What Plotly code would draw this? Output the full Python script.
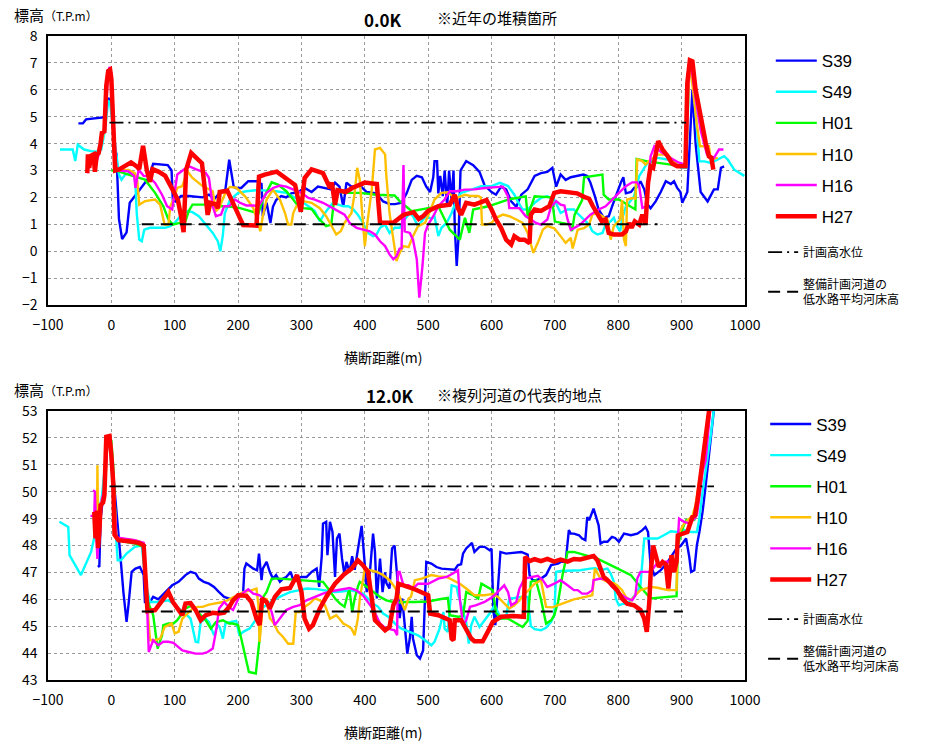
import plotly.graph_objects as go

# ---------------- data: 0.0K cross-section (x: 横断距離 m, y: 標高 T.P.m) ----------------
top_S39 = [(-52,4.75),(-45,4.75),(-40,4.9),(-25,4.95),(-10,4.98),(-5,5.7),(0,5.5),(5,3.6),(8,3.65),(12,1.2),(17,0.45),(24,0.7),(29,1.8),(42,2.2),(58,2.7),(66,3.25),(82,3.2),(89,3.2),(95,3.0),(97,1.9),(101,1.85),(110,2.05),(122,2.05),(144,2.0),(154,2.1),(163,1.95),(172,2.2),(180,2.3),(186,3.4),(190,2.8),(193,2.4),(196,2.35),(205,2.35),(216,2.6),(229,2.6),(237,2.5),(239,1.3),(245,1.8),(251,1.05),(255,1.65),(260,1.9),(268,2.05),(276,2.0),(284,2.15),(295,2.2),(305,2.35),(316,2.2),(326,2.4),(339,2.35),(347,2.3),(353,2.55),(360,2.4),(366,1.65),(371,2.55),(379,2.4),(392,2.45),(403,2.2),(418,2.15),(429,1.85),(439,1.75),(448,1.75),(458,1.8),(466,2.15),(474,2.65),(482,2.8),(490,2.75),(497,2.4),(503,2.2),(508,2.75),(510,3.35),(514,3.35),(516,2.15),(519,2.8),(523,2.05),(526,3.0),(530,1.65),(533,3.0),(537,1.9),(540,3.0),(542,0.9),(545,-0.55),(548,0.55),(551,3.0),(560,3.35),(571,3.2),(581,2.95),(589,2.45),(600,2.2),(607,2.1),(615,2.4),(623,2.3),(631,1.85),(639,1.65),(647,2.1),(657,2.3),(668,2.8),(678,2.9),(688,2.95),(696,3.1),(702,2.4),(709,2.85),(717,2.65),(725,2.75),(735,2.8),(745,2.85),(751,2.8),(756,2.55),(763,2.05),(769,1.55),(777,1.25),(785,1.3),(790,1.65),(796,2.05),(804,2.55),(808,2.75),(812,2.15),(820,2.2),(825,2.35),(830,2.4),(835,2.6),(841,2.3),(846,1.75),(851,1.6),(859,1.85),(867,2.2),(875,2.6),(883,2.5),(888,2.6),(893,2.35),(898,2.2),(901,1.8),(909,2.2),(917,6.0),(922,4.0),(930,2.2),(941,1.85),(951,2.3),(957,2.3),(962,3.1),(967,3.15)]
top_S49 = [(-81,3.78),(-61,3.78),(-57,3.35),(-53,3.96),(-43,3.78),(-32,3.72),(-21,3.7),(-16,3.78),(-12,4.27),(-10,4.5),(-5,5.6),(-2,5.5),(3,4.5),(8,3.53),(12,2.85),(16,2.66),(22,2.85),(29,2.9),(36,2.9),(38,2.48),(40,1.42),(44,0.43),(48,0.37),(52,0.8),(61,0.87),(74,0.87),(85,0.87),(93,0.93),(101,1.08),(109,1.3),(120,1.49),(128,1.45),(138,1.3),(149,0.99),(160,0.68),(168,0.37),(172,0.0),(176,0.6),(179,1.4),(187,1.9),(200,2.17),(213,2.23),(229,2.27),(245,2.25),(260,2.23),(276,2.17),(292,1.98),(300,1.86),(311,1.67),(321,1.49),(329,1.11),(337,1.42),(345,1.67),(350,1.8),(358,1.73),(366,1.67),(374,1.67),(382,1.55),(389,1.36),(397,1.05),(405,0.68),(413,0.56),(418,0.6),(424,0.87),(432,0.99),(439,0.68),(447,0.87),(455,0.87),(463,1.18),(471,1.42),(476,1.3),(484,0.93),(492,1.18),(497,1.3),(505,1.2),(510,1.3),(516,0.56),(521,0.87),(529,1.05),(537,1.42),(545,1.92),(552,2.17),(568,2.29),(584,2.42),(600,2.42),(613,2.54),(626,2.42),(636,2.1),(641,1.86),(649,1.55),(657,1.55),(668,1.8),(678,1.98),(688,2.04),(699,1.92),(709,1.42),(720,1.55),(730,1.55),(735,1.42),(746,1.18),(754,0.99),(759,0.74),(767,0.62),(775,0.68),(780,0.99),(788,1.11),(793,1.24),(798,0.93),(803,0.74),(806,1.18),(812,1.67),(817,1.8),(825,2.04),(833,2.79),(838,2.97),(846,3.28),(854,3.41),(862,3.47),(878,3.41),(888,3.35),(899,3.1),(907,3.1),(912,6.63),(916,6.75),(920,5.76),(924,4.65),(928,3.34),(936,3.34),(946,3.28),(957,3.41),(967,3.53),(973,3.4),(983,3.03),(999,2.8)]
top_H01 = [(0,3.0),(8,3.0),(27,2.85),(53,2.66),(69,2.17),(82,1.67),(90,1.18),(97,0.99),(117,1.11),(122,1.49),(128,1.73),(154,1.73),(165,1.67),(183,1.67),(203,1.6),(232,1.4),(239,1.92),(253,2.56),(263,2.48),(276,2.23),(287,1.92),(295,1.67),(303,1.6),(316,1.57),(326,1.24),(339,0.93),(347,0.99),(353,2.23),(371,2.17),(392,2.17),(418,2.1),(447,2.07),(455,1.86),(474,1.49),(500,1.6),(516,1.67),(534,0.8),(550,0.43),(558,1.24),(565,0.68),(571,1.55),(595,1.67),(626,1.92),(654,2.04),(657,1.3),(668,2.04),(695,2.0),(700,1.1),(722,1.0),(727,0.75),(731,1.35),(743,1.9),(746,2.75),(775,2.85),(777,2.1),(785,1.92),(801,1.92),(827,1.55),(829,3.43),(846,3.34),(883,3.22),(895,3.16)]
top_H10 = [(-40,3.3),(-30,3.4),(-20,3.6),(-12,4.4),(-5,6.6),(-1,6.7),(3,4.6),(8,3.0),(27,3.02),(37,2.9),(41,2.6),(44,1.73),(53,1.86),(69,1.92),(77,1.73),(84,0.99),(90,0.99),(93,1.67),(98,1.92),(104,2.35),(112,2.42),(120,2.97),(128,2.72),(144,2.42),(160,2.23),(165,1.49),(170,1.6),(181,2.23),(187,2.39),(197,2.36),(211,2.04),(224,1.6),(232,1.05),(235,0.74),(239,1.3),(245,1.92),(255,2.29),(266,1.92),(274,1.42),(279,0.99),(284,0.99),(287,1.42),(292,1.67),(303,1.86),(316,1.8),(329,1.6),(339,1.3),(347,0.93),(355,0.62),(362,0.74),(368,1.05),(379,1.42),(384,2.17),(388,3.1),(392,2.66),(395,1.67),(400,0.19),(404,1.05),(411,2.29),(416,3.78),(424,3.84),(432,3.6),(434,2.78),(439,1.42),(445,0.37),(450,-0.37),(455,-0.06),(461,0.19),(469,0.15),(476,0.56),(484,0.93),(495,1.05),(503,1.49),(510,1.92),(521,2.17),(531,2.19),(539,2.04),(547,2.0),(558,2.1),(568,2.05),(579,2.05),(583,2.0),(585,0.99),(592,0.99),(600,1.05),(607,1.24),(618,1.36),(628,1.3),(639,1.18),(649,1.05),(657,0.68),(666,-0.06),(673,0.31),(681,0.8),(688,0.93),(699,0.85),(709,0.56),(717,0.31),(725,0.5),(728,0.1),(736,0.8),(746,0.86),(754,0.99),(759,1.36),(767,1.42),(775,1.3),(783,1.18),(788,0.43),(793,0.93),(803,1.18),(806,1.9),(809,0.43),(812,0.19),(814,1.92),(825,1.98),(827,1.92),(830,3.41),(838,3.35),(843,3.22),(851,3.41),(862,3.59),(878,3.59),(885,3.41),(893,3.22),(907,3.16),(912,6.94),(917,6.2),(924,4.71),(929,3.9),(943,3.9),(946,3.41),(957,3.47)]
top_H16 = [(-38,2.9),(-36,3.1),(-33,3.5),(-28,3.3),(-25,3.2),(-20,3.6),(-15,4.3),(-10,4.5),(-6,6.3),(-3,6.85),(0,6.6),(4,4.6),(8,3.05),(11,3.0),(27,2.97),(36,2.79),(38,2.35),(43,3.03),(51,2.8),(59,2.78),(69,2.54),(80,2.1),(88,1.67),(96,1.55),(104,2.85),(114,3.03),(122,3.16),(133,3.05),(149,2.91),(154,2.72),(160,1.67),(165,1.3),(173,1.36),(178,1.67),(186,1.67),(195,1.92),(203,1.8),(213,1.7),(224,1.7),(232,1.67),(245,2.17),(255,2.35),(266,2.44),(276,2.4),(287,2.29),(300,2.17),(311,1.98),(321,1.92),(334,1.8),(345,1.67),(358,1.49),(368,1.36),(376,1.05),(387,0.87),(397,0.8),(408,0.74),(416,0.62),(424,0.37),(432,0.19),(439,-0.12),(445,-0.3),(450,-0.19),(455,0.1),(458,0.12),(461,3.2),(463,0.74),(471,0.68),(476,0.43),(482,-0.3),(486,-1.73),(491,-0.55),(495,0.68),(500,0.99),(508,1.3),(516,1.67),(526,1.92),(534,2.23),(545,2.23),(558,2.29),(573,2.3),(589,2.35),(605,2.38),(618,2.4),(626,2.04),(628,1.6),(644,1.6),(654,1.3),(662,1.18),(670,1.05),(678,0.99),(688,1.18),(694,1.67),(702,1.86),(709,1.73),(715,1.7),(720,1.18),(725,0.8),(730,0.86),(740,0.99),(756,1.36),(769,1.55),(780,1.67),(790,1.92),(801,2.17),(812,2.42),(822,2.56),(830,2.56),(833,2.42),(838,1.61),(843,1.65),(849,2.91),(851,3.53),(857,3.9),(867,3.7),(880,3.5),(895,3.3),(907,3.2),(911,6.9),(914,7.1),(920,6.0),(930,4.5),(940,3.6),(951,3.47),(959,3.78),(966,3.78)]
top_H27 = [(-38,2.9),(-37,3.6),(-35,3.1),(-32,3.55),(-28,3.6),(-26,2.95),(-23,3.6),(-20,3.65),(-17,4.0),(-15,4.4),(-11,4.45),(-8,6.15),(-5,6.7),(-2,6.75),(0,6.4),(3,4.65),(6,3.0),(13,3.05),(21,3.15),(31,3.3),(40,3.15),(44,3.05),(50,3.92),(56,3.0),(61,2.58),(65,3.05),(75,2.95),(85,2.8),(97,2.27),(105,1.9),(110,1.3),(114,0.71),(118,3.02),(126,3.65),(143,3.27),(152,1.35),(156,1.8),(164,1.75),(168,1.6),(171,2.2),(183,2.25),(195,1.6),(208,0.97),(229,0.95),(233,2.77),(242,2.85),(261,2.96),(290,2.46),(299,1.47),(305,2.72),(316,3.04),(334,2.9),(340,2.6),(345,2.35),(348,2.55),(353,1.72),(357,2.27),(370,2.2),(380,2.35),(390,2.45),(400,2.55),(419,2.5),(424,1.06),(445,1.06),(461,1.35),(477,1.45),(485,1.2),(492,1.3),(500,1.5),(516,1.67),(534,1.73),(542,2.1),(547,1.6),(552,1.35),(560,1.8),(573,1.73),(584,1.85),(592,1.9),(600,1.55),(607,1.18),(615,0.87),(623,0.43),(631,0.25),(636,0.56),(644,0.43),(652,0.43),(660,0.3),(662,1.36),(668,1.55),(678,1.5),(691,1.67),(699,2.17),(709,2.23),(725,2.2),(735,2.15),(746,2.02),(754,1.95),(760,1.67),(767,1.36),(774,1.11),(780,1.18),(785,0.68),(793,0.62),(806,0.62),(812,0.74),(817,1.05),(821,0.87),(826,1.11),(833,0.99),(838,1.36),(843,0.99),(847,2.54),(851,3.16),(855,3.1),(863,4.09),(870,3.78),(878,3.53),(885,3.26),(893,3.16),(906,3.16),(909,6.26),(913,7.1),(917,7.06),(922,6.0),(928,5.27),(933,4.52),(938,4.03),(943,3.53),(947,3.47),(950,3.03)]
top_hwl_x = [-3, 907]          # 計画高水位
top_hwl_y = [4.78, 4.78]
top_bed_x = [48, 862]          # 整備計画河道の低水路平均河床高
top_bed_y = [1.0, 1.0]

# ---------------- data: 12.0K cross-section ----------------
bot_S39 = [(-21,47.27),(-19,47.2),(-17,49.0),(-12,50.0),(-8,51.5),(-5,52.0),(-1,51.7),(3,50.7),(5,50.0),(11,48.5),(15,47.4),(19,46.27),(21,45.78),(24,45.16),(27,45.78),(32,47.02),(38,47.14),(45,47.2),(51,46.9),(53,45.9),(61,45.9),(66,46.09),(74,46.0),(85,46.27),(96,46.52),(106,46.65),(117,46.9),(125,47.02),(133,46.96),(138,46.77),(146,46.65),(154,46.58),(162,46.46),(170,46.27),(178,46.09),(186,46.03),(192,45.96),(197,46.09),(203,46.15),(208,46.27),(210,47.14),(213,47.33),(224,47.14),(230,47.08),(233,47.7),(237,46.71),(239,47.14),(245,47.39),(250,47.02),(255,46.77),(260,46.9),(266,46.65),(271,46.77),(276,46.83),(283,47.02),(287,46.71),(295,46.77),(300,46.83),(308,46.83),(316,47.02),(324,47.14),(328,46.46),(332,47.6),(334,48.81),(339,48.88),(341,47.64),(345,48.88),(349,48.5),(353,46.83),(356,48.26),(360,48.44),(364,47.52),(368,46.9),(371,47.39),(376,47.02),(380,47.6),(384,47.1),(392,48.2),(395,48.73),(400,47.27),(403,46.27),(408,47.0),(413,48.44),(416,47.76),(419,46.03),(424,47.51),(428,46.27),(432,47.0),(434,46.6),(439,46.4),(443,47.89),(447,48.0),(450,47.14),(453,46.3),(455,45.3),(459,46.03),(463,45.04),(467,43.98),(471,44.54),(474,45.35),(476,44.54),(482,43.92),(487,43.8),(492,44.1),(497,47.39),(505,47.33),(513,47.2),(521,47.14),(531,47.12),(542,47.1),(547,47.27),(552,47.3),(555,47.7),(560,47.89),(565,48.0),(569,48.1),(573,47.76),(581,47.95),(589,47.95),(597,47.82),(600,47.88),(603,45.53),(606,45.04),(610,46.27),(614,47.76),(623,47.7),(634,47.73),(647,47.76),(657,47.66),(660,46.9),(665,46.71),(670,46.71),(678,46.77),(686,46.9),(694,47.27),(705,47.33),(709,47.39),(717,47.39),(722,48.57),(725,48.44),(730,48.44),(738,48.38),(743,48.26),(748,48.2),(751,49.06),(754,48.94),(761,49.37),(764,49.12),(769,48.75),(772,48.07),(777,48.14),(783,48.14),(790,48.32),(795,48.28),(801,48.14),(809,48.44),(820,48.38),(830,48.44),(838,48.57),(843,48.69),(847,48.5),(851,47.27),(857,46.9),(867,47.08),(878,47.39),(885,47.64),(892,47.89),(899,48.0),(907,48.26),(912,47.58),(915,47.02),(920,47.08),(924,48.0),(928,48.5),(933,49.25),(938,50.24),(943,51.23),(949,52.6),(953,53.5)]
bot_S49 = [(-82,48.88),(-68,48.69),(-66,47.64),(-48,46.9),(-32,47.76),(-27,48.3),(-22,49.0),(-15,49.8),(-10,51.0),(-5,51.9),(-2,51.6),(3,50.0),(8,48.13),(10,47.45),(15,47.45),(24,47.7),(37,47.95),(48,48.0),(54,46.6),(61,45.9),(74,45.9),(90,45.96),(98,45.84),(106,45.66),(117,45.47),(125,45.28),(133,44.42),(137,44.4),(141,45.16),(149,45.28),(154,45.16),(162,44.66),(168,45.04),(171,44.97),(176,44.54),(180,45.1),(189,45.16),(197,45.2),(202,44.66),(208,44.79),(218,44.91),(229,45.28),(237,45.66),(245,45.78),(255,45.96),(268,46.12),(282,46.27),(295,46.33),(308,46.4),(324,46.38),(339,46.33),(353,46.27),(366,46.3),(379,46.33),(389,46.27),(397,46.21),(405,46.03),(413,45.84),(421,45.72),(429,45.47),(437,45.35),(445,45.16),(450,45.04),(458,44.91),(471,44.79),(484,44.66),(495,44.48),(505,44.29),(510,44.42),(518,44.91),(524,45.53),(526,44.91),(531,44.79),(537,46.52),(545,46.46),(547,46.21),(555,45.53),(560,45.16),(564,44.35),(568,45.04),(573,45.35),(581,44.97),(589,45.22),(597,45.47),(605,45.78),(610,45.53),(615,45.28),(623,45.35),(628,46.03),(636,46.05),(647,46.09),(657,46.09),(662,45.0),(668,44.89),(678,44.85),(686,44.94),(694,45.16),(699,45.41),(702,47.02),(709,47.05),(720,47.06),(730,47.08),(740,47.08),(756,47.14),(764,47.16),(772,47.08),(783,47.14),(788,46.96),(793,46.65),(796,46.03),(801,45.78),(806,45.82),(814,45.84),(822,46.03),(830,46.27),(835,46.52),(841,48.26),(851,48.26),(862,48.26),(872,48.38),(883,48.53),(893,48.5),(899,48.6),(907,48.56),(915,48.5),(924,48.5),(928,49.0),(933,49.99),(941,51.23),(946,52.1),(951,53.09),(954,53.5)]
bot_H01 = [(-10,50.5),(-6,52.0),(0,51.9),(3,50.92),(8,48.26),(16,48.16),(37,48.07),(51,47.95),(56,46.0),(66,45.41),(73,44.17),(80,44.66),(82,45.04),(90,45.1),(98,45.1),(104,45.22),(117,45.66),(128,45.78),(136,45.53),(149,45.22),(157,44.91),(165,45.15),(176,45.22),(186,45.1),(192,45.1),(200,45.04),(205,44.54),(212,43.8),(217,43.3),(228,43.24),(234,44.54),(238,46.03),(245,46.27),(253,46.77),(266,46.77),(282,46.74),(300,46.71),(318,46.68),(334,46.65),(342,46.4),(353,46.03),(361,45.84),(368,45.72),(374,46.27),(376,46.33),(380,45.53),(384,46.03),(389,46.46),(392,46.65),(400,46.52),(413,46.27),(424,46.09),(434,45.96),(445,45.9),(455,45.88),(463,45.9),(479,45.9),(500,45.92),(518,46.0),(531,46.05),(534,45.41),(547,45.35),(555,45.37),(560,46.27),(571,46.15),(579,46.03),(584,46.58),(594,46.46),(602,46.34),(607,45.5),(615,45.28),(626,45.28),(639,45.1),(649,44.97),(657,45.2),(662,46.65),(670,46.71),(678,46.0),(686,45.1),(694,45.22),(699,45.41),(705,45.9),(712,46.9),(720,47.76),(730,47.76),(746,47.64),(767,47.51),(788,47.27),(820,46.9),(835,46.46),(851,46.03),(878,46.09),(892,46.12),(894,48.0),(901,48.6),(907,48.94),(917,49.0),(920,48.94),(925,49.6),(930,50.4),(935,51.2),(941,52.3),(946,53.3)]
bot_H10 = [(-23,48.13),(-22,50.98),(-21,48.88),(-15,49.7),(-10,50.0),(-6,52.0),(-1,51.9),(3,50.5),(8,48.26),(37,48.2),(51,48.1),(56,46.0),(61,44.48),(69,44.48),(77,44.54),(84,44.97),(90,45.04),(95,45.1),(100,44.73),(106,44.79),(112,45.28),(120,45.47),(128,45.65),(136,45.72),(144,45.72),(154,45.8),(165,45.84),(176,45.9),(183,45.96),(186,46.0),(197,46.15),(208,46.27),(221,46.33),(229,46.4),(232,45.8),(234,44.42),(237,45.28),(239,45.9),(245,46.03),(250,45.3),(255,45.16),(263,44.79),(271,44.6),(279,44.35),(287,44.35),(291,45.53),(297,45.53),(305,45.72),(313,45.84),(321,46.03),(329,45.96),(337,45.78),(345,45.28),(355,45.41),(360,45.28),(366,45.1),(374,45.0),(379,44.91),(384,44.66),(389,45.28),(392,46.0),(396,46.58),(400,47.14),(408,47.08),(419,47.02),(429,46.9),(439,46.71),(447,46.46),(455,46.1),(458,45.9),(463,45.6),(469,46.03),(473,46.1),(479,46.71),(490,46.77),(505,46.9),(516,46.85),(529,46.83),(539,46.71),(550,46.58),(560,46.4),(573,46.15),(589,46.15),(602,46.2),(610,46.09),(620,45.84),(628,45.66),(636,45.78),(644,45.96),(652,46.21),(657,46.3),(668,46.58),(678,46.71),(686,45.72),(696,45.7),(705,45.78),(712,45.84),(720,45.9),(730,46.0),(748,46.09),(759,46.15),(763,47.14),(767,46.96),(772,46.77),(783,46.65),(793,46.6),(798,46.52),(806,46.34),(812,46.09),(820,45.96),(827,46.15),(835,46.34),(843,46.4),(851,46.46),(862,46.43),(878,46.34),(892,46.34),(894,48.4),(904,48.82),(909,48.94),(917,49.1),(922,49.5),(928,50.4),(933,51.2),(938,52.0),(943,53.0),(946,53.5)]
bot_H16 = [(-33,49.1),(-27,49.1),(-26,50.0),(-29,50.05),(-26,50.0),(-24,48.5),(-22,47.5),(-20,48.5),(-15,49.7),(-10,50.2),(-6,52.0),(-1,51.9),(3,50.3),(8,48.3),(37,48.2),(51,48.1),(56,46.0),(59,44.04),(66,44.48),(74,44.29),(82,44.42),(90,44.42),(98,44.38),(106,44.2),(112,44.1),(122,44.04),(133,43.98),(144,43.98),(152,44.04),(160,44.17),(165,44.79),(170,45.66),(178,45.9),(186,45.7),(192,45.6),(203,46.15),(216,46.37),(224,46.21),(234,46.15),(245,45.9),(253,45.53),(258,45.04),(266,45.28),(276,45.6),(287,45.72),(297,45.78),(308,45.96),(321,46.09),(334,46.21),(347,46.3),(363,46.37),(376,46.42),(387,46.33),(397,46.15),(408,45.8),(416,45.5),(424,45.1),(432,44.94),(439,44.89),(447,44.85),(451,44.66),(452,47.02),(455,47.02),(461,46.52),(469,46.52),(476,46.4),(484,46.58),(500,46.58),(516,46.77),(529,46.83),(539,46.96),(547,47.08),(550,46.0),(555,45.04),(560,45.22),(566,45.72),(576,45.78),(589,45.9),(602,46.09),(613,46.34),(620,46.52),(626,46.27),(631,45.78),(639,45.9),(644,46.4),(652,46.77),(662,46.83),(673,46.87),(681,46.71),(688,46.46),(699,46.58),(709,46.71),(720,46.52),(730,46.34),(736,46.34),(743,46.21),(751,46.21),(759,46.34),(761,46.71),(772,46.77),(783,46.71),(790,46.46),(798,46.34),(806,46.15),(814,46.03),(822,45.96),(827,46.15),(830,46.77),(835,47.02),(851,47.02),(860,47.3),(875,47.4),(892,47.4),(896,49.0),(904,48.88),(912,48.82),(920,49.0),(924,49.12),(928,49.8),(933,50.74),(938,51.17),(943,52.47),(946,53.3)]
bot_H27 = [(-27,49.25),(-25,48.26),(-23,49.3),(-21,47.9),(-19,48.5),(-17,49.5),(-13,49.6),(-11,49.87),(-8,52.04),(-3,52.07),(0,51.36),(3,50.3),(5,48.4),(11,48.2),(27,48.16),(43,48.1),(51,48.0),(54,47.0),(57,45.56),(69,45.6),(77,45.84),(84,46.09),(90,46.27),(97,45.9),(104,45.66),(112,45.41),(117,45.84),(125,45.86),(133,45.6),(141,45.22),(149,45.41),(160,45.5),(170,45.47),(178,45.5),(186,45.72),(192,45.96),(200,46.15),(213,46.13),(221,45.9),(229,45.28),(234,45.04),(238,46.03),(245,45.9),(250,45.66),(258,46.09),(268,46.37),(282,46.42),(289,46.77),(293,46.9),(300,46.27),(305,45.28),(312,44.91),(318,45.04),(329,45.66),(339,46.09),(353,46.58),(366,46.9),(379,47.14),(389,47.45),(397,47.27),(405,47.02),(411,46.03),(416,45.22),(424,45.04),(432,44.85),(439,44.97),(445,45.78),(450,46.03),(453,46.58),(476,46.4),(500,46.15),(503,45.47),(516,45.41),(534,45.22),(537,44.54),(540,44.48),(542,45.22),(552,45.22),(560,44.91),(568,44.54),(573,44.44),(586,44.44),(594,44.79),(602,45.16),(615,45.35),(634,45.38),(651,45.35),(653,47.58),(660,47.42),(668,47.49),(678,47.42),(688,47.5),(699,47.4),(709,47.48),(720,47.4),(730,47.5),(740,47.48),(748,47.52),(756,47.57),(761,47.61),(767,47.45),(772,47.14),(777,46.83),(783,46.71),(790,46.52),(798,46.34),(806,46.03),(814,45.84),(825,45.78),(835,45.6),(841,45.28),(845,44.79),(849,45.9),(851,46.9),(855,48.0),(861,47.39),(864,47.2),(870,47.39),(875,47.3),(879,46.4),(882,47.0),(884,47.64),(888,47.02),(892,47.4),(894,48.38),(901,48.44),(909,48.5),(917,49.06),(921,49.12),(925,49.68),(929,50.36),(933,51.05),(938,52.04),(943,52.97),(946,53.5)]
bot_hwl_x = [-3, 951]
bot_hwl_y = [50.2, 50.2]
bot_bed_x = [48, 902]
bot_bed_y = [45.55, 45.55]

series_names = ["S39", "S49", "H01", "H10", "H16", "H27"]
series_colors = ["#0000FF", "#00FFFF", "#00FF00", "#FFC000", "#FF00FF", "#FF0000"]
series_widths = [2.4, 2.4, 2.4, 2.4, 2.4, 4.5]
top_series = [top_S39, top_S49, top_H01, top_H10, top_H16, top_H27]
bot_series = [bot_S39, bot_S49, bot_H01, bot_H10, bot_H16, bot_H27]
x_ticks = list(range(-100, 1001, 100))
hwl_name = "計画高水位"
bed_name = "整備計画河道の<br>低水路平均河床高"

FONT = "Liberation Sans, Noto Sans CJK JP, sans-serif"
JFONT = "Noto Sans CJK JP, sans-serif"

fig = go.Figure()
panels = [
    (top_series, "x", "y", "legend", "legend2", top_hwl_x, top_hwl_y, top_bed_x, top_bed_y),
    (bot_series, "x2", "y2", "legend3", "legend4", bot_hwl_x, bot_hwl_y, bot_bed_x, bot_bed_y),
]
for pi, (data, xa, ya, lg, lgref, hx, hy, bx, by) in enumerate(panels):
    for name, col, w, pts in zip(series_names, series_colors, series_widths, data):
        fig.add_trace(go.Scatter(
            x=[p[0] for p in pts], y=[p[1] for p in pts], mode="lines",
            name=name, line=dict(color=col, width=w), xaxis=xa, yaxis=ya,
            legend=lg, legendgroup=f"{pi}{name}"))
    fig.add_trace(go.Scatter(x=hx, y=hy, mode="lines", name=hwl_name,
                             line=dict(color="black", width=1.8, dash="14px,5px,2px,5px"),
                             xaxis=xa, yaxis=ya, legend=lgref, legendgroup=f"{pi}hwl"))
    fig.add_trace(go.Scatter(x=bx, y=by, mode="lines", name=bed_name,
                             line=dict(color="black", width=2, dash="12px,7px"),
                             xaxis=xa, yaxis=ya, legend=lgref, legendgroup=f"{pi}bed"))

axis_common = dict(showline=True, linecolor="black", linewidth=1.5, mirror=True,
                   showgrid=True, gridcolor="#9a9a9a", griddash="dot", gridwidth=1,
                   zeroline=False, ticks="", tickfont=dict(family=JFONT, size=14, color="black"),
                   ticklabelstandoff=6)
leg_series = dict(xanchor="left", yanchor="top", font=dict(family=FONT, size=17, color="black"),
                  tracegroupgap=6, itemwidth=41, bgcolor="rgba(0,0,0,0)")
leg_ref = dict(xanchor="left", yanchor="top", font=dict(family=JFONT, size=12, color="black"),
               bgcolor="rgba(0,0,0,0)")

# page body has an 8px margin: figure is 8px smaller so the plot lands where intended
fig.update_layout(
    width=917, height=739,
    margin=dict(l=40, r=180, t=28, b=67),
    paper_bgcolor="white", plot_bgcolor="white",
    xaxis=dict(domain=[0, 1], range=[-100, 1000], tickvals=x_ticks, anchor="y", **axis_common),
    yaxis=dict(domain=[0.5823, 1], range=[-2, 8], dtick=1, anchor="x", **axis_common),
    xaxis2=dict(domain=[0, 1], range=[-100, 1000], tickvals=x_ticks, anchor="y2", **axis_common),
    yaxis2=dict(domain=[0, 0.4177], range=[43, 53], dtick=1, anchor="x2", **axis_common),
    legend=dict(x=1.037, y=0.989, **leg_series),
    legend2=dict(x=1.026, y=0.687, tracegroupgap=13, **leg_ref),
    legend3=dict(x=1.029, y=0.4248, **leg_series),
    legend4=dict(x=1.026, y=0.117, tracegroupgap=13, **leg_ref),
    showlegend=True,
)

def ann(text, px, py, size, anchor="center", bold=False):
    fig.add_annotation(text=f"<b>{text}</b>" if bold else text, xref="paper", yref="paper",
                       x=(px - 48) / 697, y=1 - (py - 36) / 644, xanchor=anchor, yanchor="middle",
                       showarrow=False, font=dict(family=JFONT, size=size, color="black"))

ann('標高<span style="font-size:12px">（T.P.m）</span>', 12, 14, 15, "left")
ann('標高<span style="font-size:12px">（T.P.m）</span>', 12, 389, 15, "left")
ann("0.0K", 383, 20, 17, bold=True)
ann("※近年の堆積箇所", 435, 17, 15, "left")
ann("12.0K", 390, 395, 17, bold=True)
ann("※複列河道の代表的地点", 435, 394, 15, "left")
ann("横断距離(m)", 383, 357, 14)
ann("横断距離(m)", 383, 732, 14)

fig.write_html("out.html")
